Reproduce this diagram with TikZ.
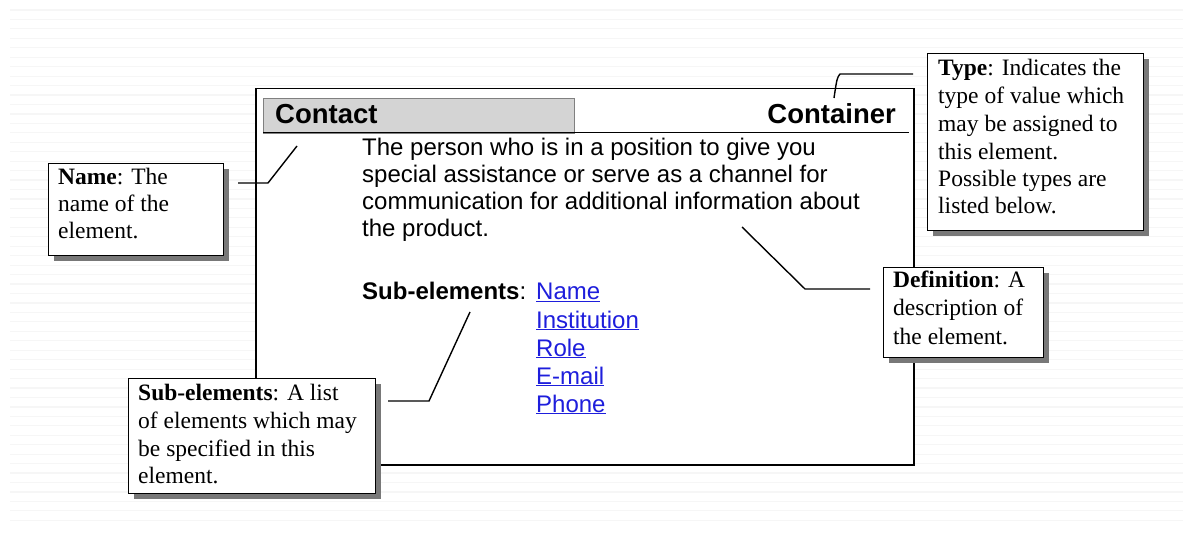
\documentclass[tikz,border=0pt]{standalone}
\usepackage{fontspec}
\setmainfont{Liberation Serif}
\newfontfamily\arialf{Liberation Sans}
\definecolor{linkblue}{RGB}{30,30,220}
\definecolor{hdrgrey}{RGB}{212,212,212}
\definecolor{bgline}{RGB}{246,246,246}
\definecolor{shadowgrey}{RGB}{120,120,120}
\tikzset{
  calloutbox/.style={draw=black, line width=1.3pt, fill=white, inner sep=0pt, anchor=north west},
  shadowbox/.style={fill=shadowgrey, draw=none, inner sep=0pt, anchor=north west},
  serifline/.style={anchor=base west, inner sep=0pt, font=\fontsize{23.5}{28}\selectfont},
  sansline/.style={anchor=base west, inner sep=0pt, font=\arialf\fontsize{24}{27}\selectfont},
  linkline/.style={sansline, text=linkblue},
  conn/.style={draw=black, line width=1.4pt},
}
\begin{document}
\begin{tikzpicture}[x=1pt,y=-1pt]
\useasboundingbox (0,0) rectangle (1193,534);
% faint background lines
\foreach \k in {0,...,54} {
  \draw[bgline, line width=1.2pt] (10,{10+9.45*\k}) -- (1183,{10+9.45*\k});
}
% main container box
\node[draw=black, line width=1.5pt, fill=white, minimum width=658pt, minimum height=376pt, inner sep=0pt, anchor=north west] (main) at (255,88) {};
\node[draw=black!50, line width=1pt, fill=hdrgrey, minimum width=311pt, minimum height=35pt, inner sep=0pt, anchor=north west] (hdr) at (263,98) {};
\coordinate (hl) at (263,133);
\coordinate (hr) at (909,133);
\draw[black, line width=1pt] (hl) -- (hr);
\node[anchor=base west, inner sep=0pt, font=\arialf\bfseries\fontsize{27.5}{30}\selectfont] (contact) at (275,124) {Contact};
\node[anchor=base east, inner sep=0pt, font=\arialf\bfseries\fontsize{27.5}{30}\selectfont] (container) at (896,124) {Container};
% description
\node[sansline] (d1) at (362,156) {The person who is in a position to give you};
\node[sansline] (d2) at (362,183) {special assistance or serve as a channel for};
\node[sansline] (d3) at (362,210) {communication for additional information about};
\node[sansline] (d4) at (362,237) {the product.};
% sub-elements
\node[sansline] (sub) at (362,300) {\textbf{Sub-elements}:};
\node[linkline] (l1) at (536,300) {\underline{Name}};
\node[linkline] (l2) at (536,328) {\underline{Institution}};
\node[linkline] (l3) at (536,356) {\underline{Role}};
\node[linkline] (l4) at (536,384) {\underline{E-mail}};
\node[linkline] (l5) at (536,412) {\underline{Phone}};
% ---- Name callout
\node[shadowbox, minimum width=175pt, minimum height=92pt] (nameshadow) at (54,169) {};
\node[calloutbox, minimum width=175pt, minimum height=92pt] (namebox) at (48,163) {};
\node[serifline] (n1) at (58,185) {\textbf{Name}: The};
\node[serifline] (n2) at (58,212) {name of the};
\node[serifline] (n3) at (58,239) {element.};
\coordinate (na) at (238,183);
\coordinate (nb) at (268,183);
\coordinate (nc) at (297,146);
\draw[conn] (na) -- (nb) -- (nc);
% ---- Type callout
\node[shadowbox, minimum width=216pt, minimum height=177pt] (typeshadow) at (933,59) {};
\node[calloutbox, minimum width=216pt, minimum height=177pt] (typebox) at (927,53) {};
\node[serifline] (t1) at (938,76) {\textbf{Type}: Indicates the};
\node[serifline] (t2) at (938,104) {type of value which};
\node[serifline] (t3) at (938,132) {may be assigned to};
\node[serifline] (t4) at (938,160) {this element.};
\node[serifline] (t5) at (938,187) {Possible types are};
\node[serifline] (t6) at (938,214) {listed below.};
\coordinate (ta) at (913,74);
\coordinate (tb) at (840,74);
\coordinate (tc) at (834,98);
\draw[conn] (ta) -- (tb) .. controls (837,78) .. (tc);
% ---- Definition callout
\node[shadowbox, minimum width=160pt, minimum height=90pt] (defshadow) at (889,273) {};
\node[calloutbox, minimum width=160pt, minimum height=90pt] (defbox) at (883,267) {};
\node[serifline] (df1) at (893,288) {\textbf{Definition}: A};
\node[serifline] (df2) at (893,316) {description of};
\node[serifline] (df3) at (893,344) {the element.};
\coordinate (da) at (742,227);
\coordinate (db) at (805,289);
\coordinate (dc) at (870,289);
\draw[conn] (da) -- (db) -- (dc);
% ---- Sub-elements callout
\node[shadowbox, minimum width=247pt, minimum height=115pt] (subshadow) at (134,384) {};
\node[calloutbox, minimum width=247pt, minimum height=115pt] (subbox) at (128,378) {};
\node[serifline] (s1) at (138,400) {\textbf{Sub-elements}: A list};
\node[serifline] (s2) at (138,428) {of elements which may};
\node[serifline] (s3) at (138,456) {be specified in this};
\node[serifline] (s4) at (138,483) {element.};
\coordinate (sa) at (388,401);
\coordinate (sb) at (429,401);
\coordinate (sc) at (470,312);
\draw[conn] (sa) -- (sb) -- (sc);
\end{tikzpicture}
\end{document}
